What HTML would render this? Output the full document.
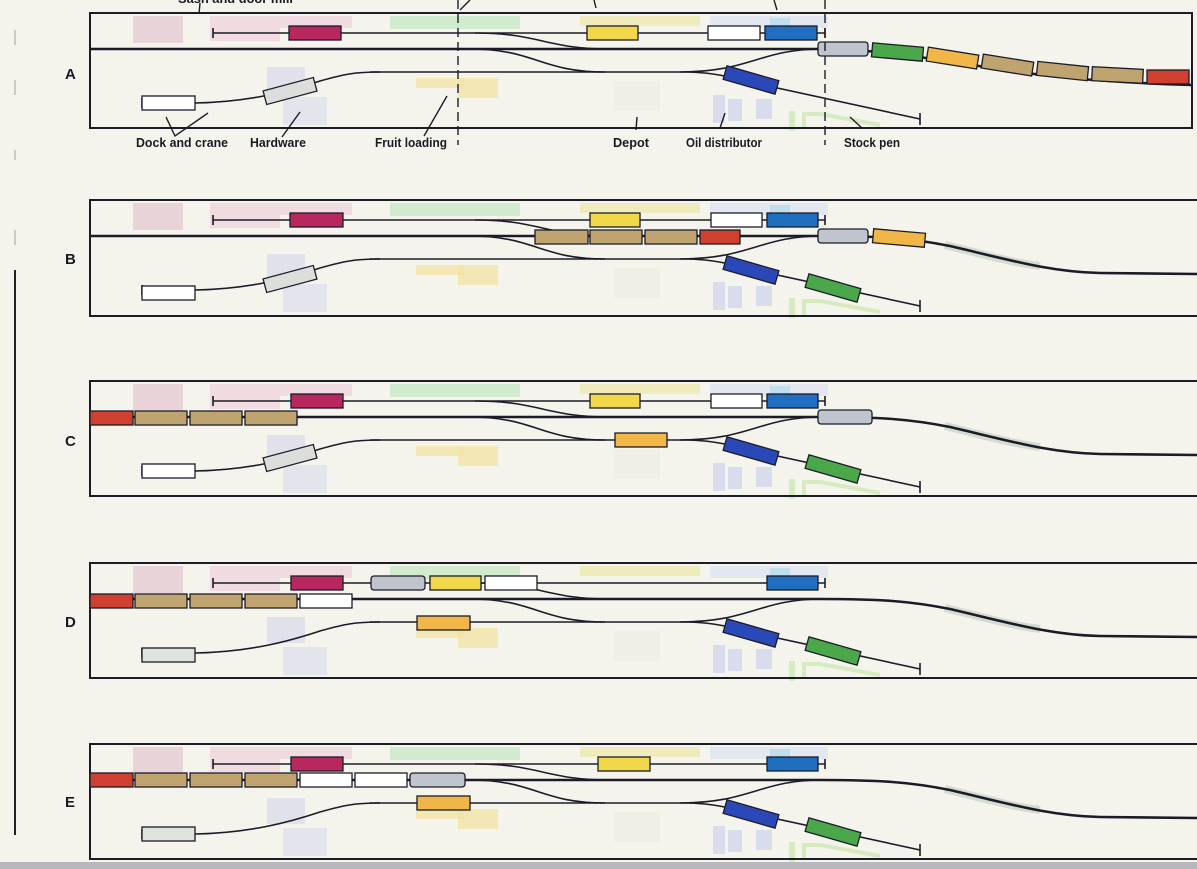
<!DOCTYPE html>
<html><head><meta charset="utf-8"><style>
html,body{margin:0;padding:0;background:#f4f3ec;}
svg{display:block}
text{font-family:"Liberation Sans Narrow","Liberation Sans",sans-serif;font-weight:bold;fill:#1a1a22}
</style></head><body>
<svg width="1197" height="869" viewBox="0 0 1197 869" xmlns="http://www.w3.org/2000/svg">
<defs>
<g id="bg">
  <rect x="133" y="3" width="50" height="27" fill="#e3c4d0" opacity=".7"/>
  <rect x="210" y="3" width="70" height="25" fill="#ecd0dc" opacity=".7"/>
  <rect x="280" y="3" width="72" height="12" fill="#ecd0dc" opacity=".7"/>
  <rect x="390" y="3" width="130" height="13" fill="#c8e8c8" opacity=".8"/>
  <rect x="580" y="3" width="120" height="10" fill="#efe8b0" opacity=".8"/>
  <rect x="710" y="3" width="118" height="12" fill="#dfe4f0" opacity=".8"/>
  <rect x="770" y="5" width="20" height="10" fill="#b8dcef" opacity=".8"/>
  <rect x="267" y="54" width="38" height="26" fill="#dcdcec" opacity=".8"/>
  <rect x="283" y="84" width="44" height="28" fill="#e0e0ee" opacity=".8"/>
  <rect x="416" y="65" width="48" height="10" fill="#f2e4a8" opacity=".8"/>
  <rect x="458" y="65" width="40" height="20" fill="#f2e4a8" opacity=".8"/>
  <rect x="614" y="68" width="46" height="30" fill="#eeeee6" opacity=".8"/>
  <rect x="713" y="82" width="12" height="28" fill="#d8dcec"/>
  <rect x="728" y="86" width="14" height="22" fill="#d8dcec"/>
  <rect x="756" y="86" width="16" height="20" fill="#d8dcec"/>
  <rect x="789" y="98" width="6" height="20" fill="#d6ecc0"/>
  <path d="M804,115 V101 H820 L880,112" fill="none" stroke="#d6ecc0" stroke-width="4"/>
</g>
<g id="track" fill="none" stroke="#1c1c28">
  <path d="M213,20 H825" stroke-width="1.6"/>
  <path d="M213,15 V25 M825,15 V25" stroke-width="1.6"/>
  <path d="M90,36 H820" stroke-width="2.6"/>
  <path d="M475,20 C540,20 545,36 610,36" stroke-width="1.6"/>
  <path d="M470,36 C535,36 540,59 605,59" stroke-width="1.6"/>
  <path d="M680,59 C750,59 760,36 822,36" stroke-width="1.6"/>
  <path d="M370,59 H700" stroke-width="1.6"/>
  <path d="M142,90 H195 C250,89 290,78 320,68 C345,61 355,59 380,59" stroke-width="1.6"/>
  <path d="M142,85 V95" stroke-width="1.6"/>
  <path d="M690,59 C715,60 730,64 745,68 L920,106" stroke-width="1.6"/>
  <path d="M920,100 V112" stroke-width="1.6"/>
</g>
<g id="rightBE" fill="none" stroke="#1c1c28" stroke-width="2.6">
  <path d="M820,36 C880,36 910,38 950,46 C1010,60 1050,72 1100,73 L1197,74"/>
</g>
<g id="oilgreen" stroke="#1c1c28" stroke-width="1.3">
  <rect x="724" y="63" width="54" height="14" fill="#2a48b8" transform="rotate(16 751 70)"/>
  <rect x="806" y="81" width="54" height="14" fill="#4aa84a" transform="rotate(16 833 88)"/>
</g>
</defs>

<path d="M15,270 V835" stroke="#222" stroke-width="2"/>
<path d="M15,30 V45 M15,80 V95 M15,150 V160 M15,230 V245" stroke="#bbb" stroke-width="1.5"/>
<rect x="0" y="862" width="1197" height="7" fill="#b8b8bc"/>

<!-- PANEL A -->
<g transform="translate(0,13)">
  <use href="#bg"/>
  <rect x="90" y="0" width="1102" height="115" fill="none" stroke="#1c1c28" stroke-width="2"/>
  <use href="#track"/>
  <path d="M820,36 C900,36 980,56 1060,64 C1110,69 1160,71 1192,72" fill="none" stroke="#1c1c28" stroke-width="2.6"/>
  <g stroke="#1c1c28" stroke-width="1.3">
    <rect x="289" y="13" width="52" height="14" fill="#b8285e"/>
    <rect x="587" y="13" width="51" height="14" fill="#f0d84a"/>
    <rect x="708" y="13" width="52" height="14" fill="#fff"/>
    <rect x="765" y="13" width="52" height="14" fill="#1f6ec0"/>
    <rect x="818" y="29" width="50" height="14" rx="3" fill="#c0c4cc"/>
    <rect x="872" y="32" width="51" height="14" fill="#4aa84a" transform="rotate(5 897 39)"/>
    <rect x="927" y="38" width="51" height="14" fill="#f0b648" transform="rotate(9 952 45)"/>
    <rect x="982" y="45" width="51" height="14" fill="#c0a470" transform="rotate(9 1007 52)"/>
    <rect x="1037" y="51" width="51" height="14" fill="#c0a470" transform="rotate(6 1062 58)"/>
    <rect x="1092" y="55" width="51" height="14" fill="#c0a470" transform="rotate(3 1117 62)"/>
    <rect x="1147" y="57" width="42" height="14" fill="#d04030"/>
    <rect x="142" y="83" width="53" height="14" fill="#fff"/>
    <rect x="264" y="71" width="52" height="14" fill="#dcdedc" transform="rotate(-15 290 78)"/>
    <rect x="724" y="60" width="54" height="14" fill="#2a48b8" transform="rotate(16 751 67)"/>
  </g>
</g>
<g stroke="#1c1c28" stroke-width="1.4" fill="none">
  <path d="M458,0 V145" stroke-dasharray="9,5"/>
  <path d="M825,0 V145" stroke-dasharray="9,5"/>
  <path d="M166,117 L175,136 L208,113"/>
  <path d="M282,137 L300,112"/>
  <path d="M424,136 L447,96"/>
  <path d="M636,130 L637,117"/>
  <path d="M720,128 L725,113"/>
  <path d="M862,128 L850,117"/>
  <path d="M199,14 L200,3 M460,10 L470,0 M596,8 L594,0 M777,10 L774,0"/>
</g>
<text x="178" y="3" font-size="13" textLength="115" lengthAdjust="spacingAndGlyphs">Sash and door mill</text>
<g font-size="13">
  <text x="136" y="147" textLength="92" lengthAdjust="spacingAndGlyphs">Dock and crane</text>
  <text x="250" y="147" textLength="56" lengthAdjust="spacingAndGlyphs">Hardware</text>
  <text x="375" y="147" textLength="72" lengthAdjust="spacingAndGlyphs">Fruit loading</text>
  <text x="613" y="147" textLength="36" lengthAdjust="spacingAndGlyphs">Depot</text>
  <text x="686" y="147" textLength="76" lengthAdjust="spacingAndGlyphs">Oil distributor</text>
  <text x="844" y="147" textLength="56" lengthAdjust="spacingAndGlyphs">Stock pen</text>
</g>
<g font-size="15"><text x="65" y="79">A</text><text x="65" y="264">B</text><text x="65" y="446">C</text><text x="65" y="627">D</text><text x="65" y="807">E</text></g>

<!-- PANEL B -->
<g transform="translate(0,200)">
  <use href="#bg"/>
  <rect x="90" y="0" width="1112" height="116" fill="none" stroke="#1c1c28" stroke-width="2"/>
  <use href="#track"/>
  <path d="M945,45 C990,56 1010,62 1040,66" stroke="#c8d0c8" stroke-width="8" fill="none" opacity=".7"/>
  <use href="#rightBE"/>
  <g stroke="#1c1c28" stroke-width="1.3">
    <rect x="290" y="13" width="53" height="14" fill="#b8285e"/>
    <rect x="590" y="13" width="50" height="14" fill="#f0d84a"/>
    <rect x="711" y="13" width="51" height="14" fill="#fff"/>
    <rect x="767" y="13" width="51" height="14" fill="#1f6ec0"/>
    <rect x="535" y="30" width="53" height="14" fill="#c0a470"/>
    <rect x="590" y="30" width="52" height="14" fill="#c0a470"/>
    <rect x="645" y="30" width="52" height="14" fill="#c0a470"/>
    <rect x="700" y="30" width="40" height="14" fill="#d04030"/>
    <rect x="818" y="29" width="50" height="14" rx="3" fill="#c0c4cc"/>
    <rect x="873" y="31" width="52" height="14" fill="#f0b648" transform="rotate(5 899 38)"/>
    <rect x="142" y="86" width="53" height="14" fill="#fff"/>
    <rect x="264" y="72" width="52" height="14" fill="#dcdedc" transform="rotate(-15 290 79)"/>
  </g>
  <use href="#oilgreen"/>
</g>

<!-- PANEL C -->
<g transform="translate(0,381)">
  <use href="#bg"/>
  <rect x="90" y="0" width="1112" height="115" fill="none" stroke="#1c1c28" stroke-width="2"/>
  <use href="#track"/>
  <path d="M945,45 C990,56 1010,62 1040,66" stroke="#c8d0c8" stroke-width="8" fill="none" opacity=".7"/>
  <use href="#rightBE"/>
  <g stroke="#1c1c28" stroke-width="1.3">
    <rect x="291" y="13" width="52" height="14" fill="#b8285e"/>
    <rect x="590" y="13" width="50" height="14" fill="#f0d84a"/>
    <rect x="711" y="13" width="51" height="14" fill="#fff"/>
    <rect x="767" y="13" width="51" height="14" fill="#1f6ec0"/>
    <rect x="90" y="30" width="43" height="14" fill="#d04030"/>
    <rect x="135" y="30" width="52" height="14" fill="#c0a470"/>
    <rect x="190" y="30" width="52" height="14" fill="#c0a470"/>
    <rect x="245" y="30" width="52" height="14" fill="#c0a470"/>
    <rect x="818" y="29" width="54" height="14" rx="3" fill="#c0c4cc"/>
    <rect x="615" y="52" width="52" height="14" fill="#f0b648"/>
    <rect x="142" y="83" width="53" height="14" fill="#fff"/>
    <rect x="264" y="70" width="52" height="14" fill="#dcdedc" transform="rotate(-15 290 77)"/>
  </g>
  <use href="#oilgreen"/>
</g>

<!-- PANEL D -->
<g transform="translate(0,563)">
  <use href="#bg"/>
  <rect x="90" y="0" width="1112" height="115" fill="none" stroke="#1c1c28" stroke-width="2"/>
  <use href="#track"/>
  <path d="M945,45 C990,56 1010,62 1040,66" stroke="#c8d0c8" stroke-width="8" fill="none" opacity=".7"/>
  <use href="#rightBE"/>
  <g stroke="#1c1c28" stroke-width="1.3">
    <rect x="291" y="13" width="52" height="14" fill="#b8285e"/>
    <rect x="371" y="13" width="54" height="14" rx="3" fill="#c0c4cc"/>
    <rect x="430" y="13" width="51" height="14" fill="#f0d84a"/>
    <rect x="485" y="13" width="52" height="14" fill="#fff"/>
    <rect x="767" y="13" width="51" height="14" fill="#1f6ec0"/>
    <rect x="90" y="31" width="43" height="14" fill="#d04030"/>
    <rect x="135" y="31" width="52" height="14" fill="#c0a470"/>
    <rect x="190" y="31" width="52" height="14" fill="#c0a470"/>
    <rect x="245" y="31" width="52" height="14" fill="#c0a470"/>
    <rect x="300" y="31" width="52" height="14" fill="#fff"/>
    <rect x="417" y="53" width="53" height="14" fill="#f0b648"/>
    <rect x="142" y="85" width="53" height="14" fill="#dfe2dd"/>
  </g>
  <use href="#oilgreen"/>
</g>

<!-- PANEL E -->
<g transform="translate(0,744)">
  <use href="#bg"/>
  <rect x="90" y="0" width="1112" height="115" fill="none" stroke="#1c1c28" stroke-width="2"/>
  <use href="#track"/>
  <path d="M945,45 C990,56 1010,62 1040,66" stroke="#c8d0c8" stroke-width="8" fill="none" opacity=".7"/>
  <use href="#rightBE"/>
  <g stroke="#1c1c28" stroke-width="1.3">
    <rect x="291" y="13" width="52" height="14" fill="#b8285e"/>
    <rect x="598" y="13" width="52" height="14" fill="#f0d84a"/>
    <rect x="767" y="13" width="51" height="14" fill="#1f6ec0"/>
    <rect x="90" y="29" width="43" height="14" fill="#d04030"/>
    <rect x="135" y="29" width="52" height="14" fill="#c0a470"/>
    <rect x="190" y="29" width="52" height="14" fill="#c0a470"/>
    <rect x="245" y="29" width="52" height="14" fill="#c0a470"/>
    <rect x="300" y="29" width="52" height="14" fill="#fff"/>
    <rect x="355" y="29" width="52" height="14" fill="#fff"/>
    <rect x="410" y="29" width="55" height="14" rx="3" fill="#c0c4cc"/>
    <rect x="417" y="52" width="53" height="14" fill="#f0b648"/>
    <rect x="142" y="83" width="53" height="14" fill="#dfe2dd"/>
  </g>
  <use href="#oilgreen"/>
</g>
</svg>
</body></html>
